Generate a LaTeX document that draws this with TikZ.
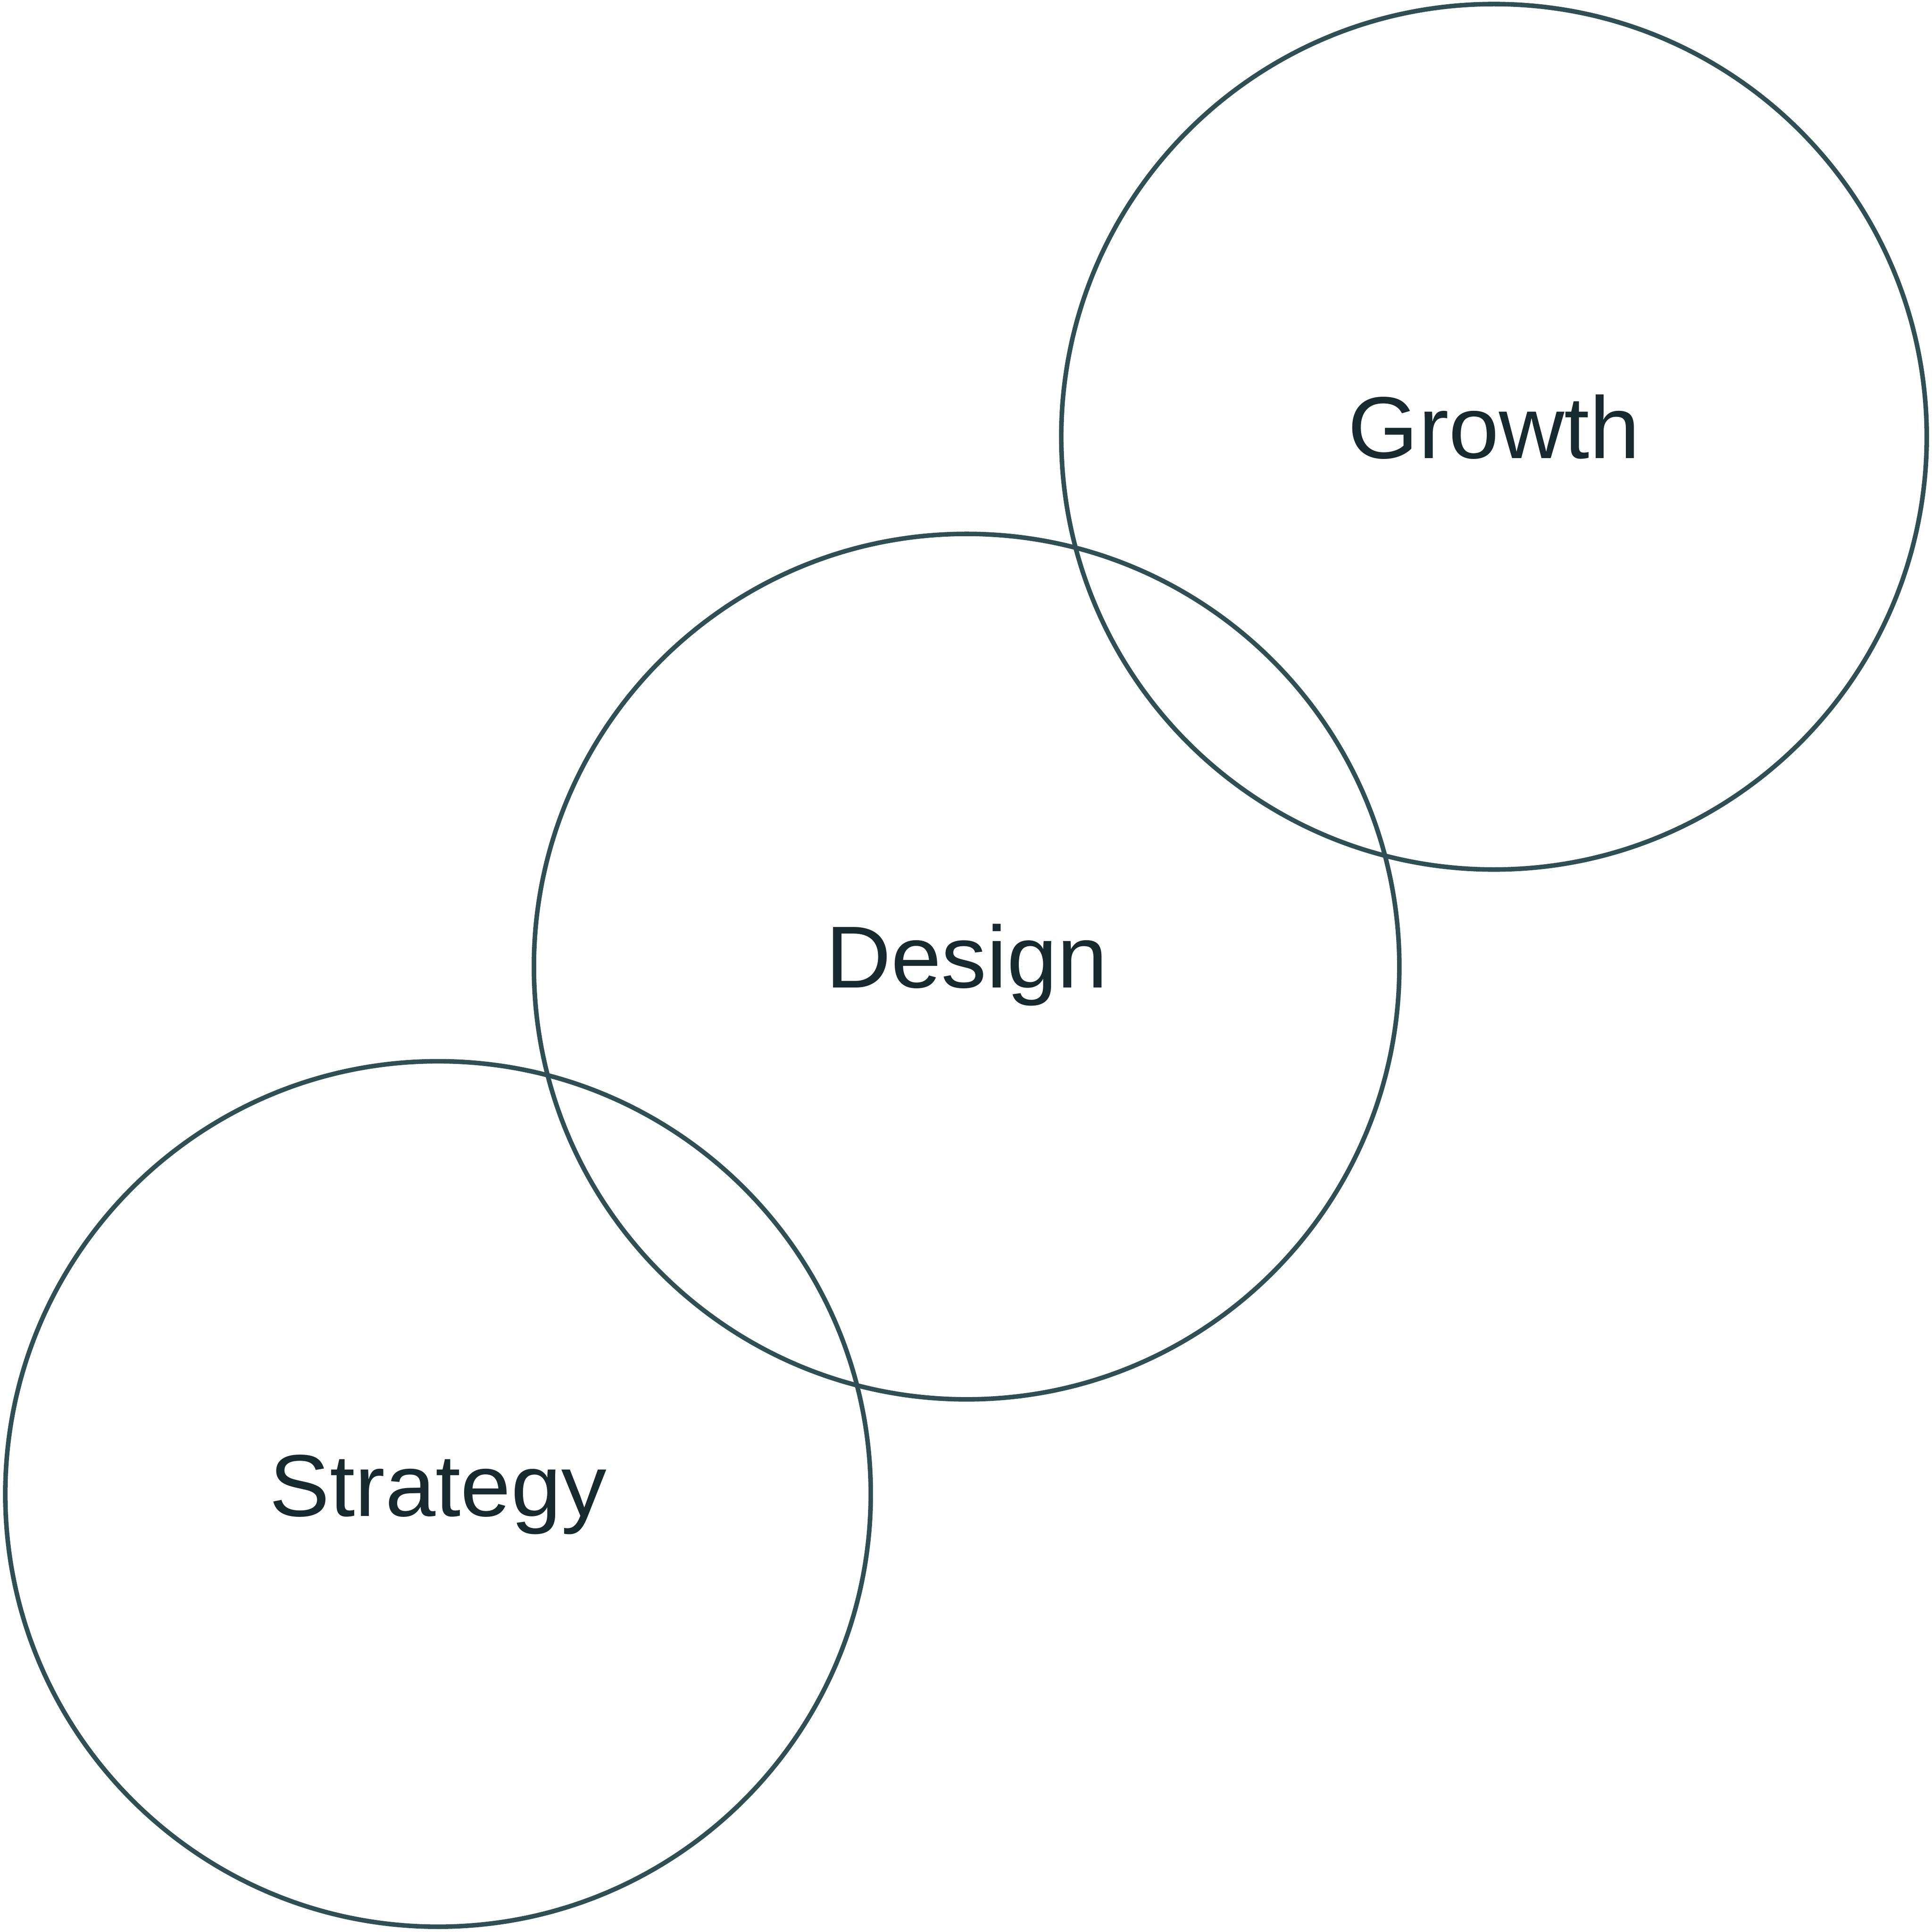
\documentclass[tikz,border=0pt]{standalone}
\usepackage{fontspec}
\setmainfont{Liberation Sans}[FakeStretch=1.03]
\definecolor{ringcol}{HTML}{2F4F54}
\definecolor{txtcol}{HTML}{172A30}
\begin{document}
\begin{tikzpicture}[x=1cm,y=1cm,
  ring/.style={draw=ringcol, line width=1.05pt},
  lbl/.style={text=txtcol, font=\fontsize{20.3pt}{23pt}\selectfont, anchor=base, inner sep=0pt}]
\useasboundingbox (0,0) rectangle (15.68,-15.68);
\fill[white] (0,0) rectangle (15.68,-15.68);
\coordinate (cg) at (12.125,-3.545);
\coordinate (cd) at (7.845,-7.845);
\coordinate (cs) at (3.555,-12.125);
\draw[ring] (cg) circle (3.512);
\draw[ring] (cd) circle (3.512);
\draw[ring] (cs) circle (3.512);
\node[lbl] (growth) at ([yshift=-0.175cm]cg) {Growth};
\node[lbl] (design) at ([yshift=-0.17cm]cd) {Design};
\node[lbl] (strategy) at ([yshift=-0.18cm]cs) {Strategy};
\end{tikzpicture}
\end{document}
